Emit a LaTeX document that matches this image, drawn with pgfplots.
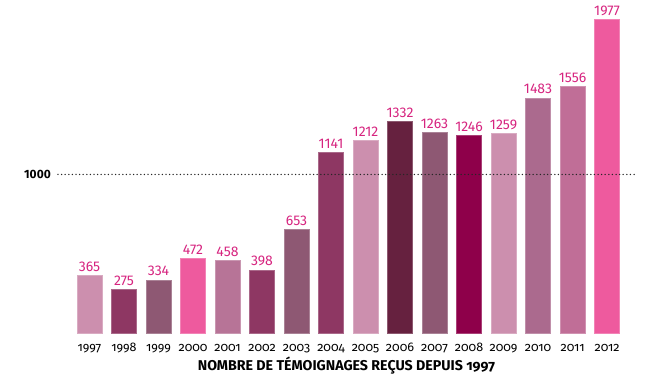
\documentclass[border=0pt]{standalone}
\usepackage{fontspec}
\setmainfont{Fira Sans}
\newfontfamily\oldfont[Numbers=OldStyle]{Fira Sans}
\usepackage{pgfplots}
\pgfplotsset{compat=1.18}
\definecolor{cA}{HTML}{CC8FAE}
\definecolor{cB}{HTML}{8E3763}
\definecolor{cC}{HTML}{8E5873}
\definecolor{cD}{HTML}{EE5A9E}
\definecolor{cE}{HTML}{B77497}
\definecolor{cF}{HTML}{66213F}
\definecolor{cG}{HTML}{8E004A}
\definecolor{cH}{HTML}{AB6A8E}
\definecolor{cI}{HTML}{C06E97}
\definecolor{lab}{HTML}{D6247F}
\begin{document}
\begin{tikzpicture}
\path[use as bounding box] (-58pt,-41pt) rectangle (592pt,336pt);
\begin{axis}[
  scale only axis, width=577pt, height=336pt,
  xmin=-0.913, xmax=15.81, ymin=-19, ymax=2101,
  axis line style={draw=none},
  clip=false,
  ybar, bar width=25pt, bar shift=0pt,
  xtick={0,...,15},
  xticklabels={1997,1998,1999,2000,2001,2002,2003,2004,2005,2006,2007,2008,2009,2010,2011,2012},
  x tick label style={font=\fontsize{12.5}{14}\selectfont\oldfont, anchor=base, yshift=-16pt, inner sep=0pt},
  major tick length=0pt,
  ytick={1000},
  yticklabels={1000},
  y tick label style={font=\fontsize{12}{13}\selectfont\bfseries, anchor=east, xshift=-7pt, inner sep=0pt},
  xlabel={NOMBRE DE TÉMOIGNAGES REÇUS DEPUIS 1997},
  xlabel style={font=\fontsize{14.2}{16}\selectfont\oldfont\bfseries, anchor=base, at={(axis description cs:0.5,0)}, yshift=-35pt, inner sep=0pt},
  /pgf/number format/.cd, 1000 sep={}, assume math mode=true, /pgfplots/.cd,
  nodes near coords,
  every node near coord/.append style={font=\fontsize{14}{16}\selectfont, text=lab, inner sep=0pt, yshift=3.5pt},
]
\addplot[fill=cA, draw=cA!75!white, line width=0.8pt] coordinates {(0,365)};
\addplot[fill=cB, draw=cB!75!white, line width=0.8pt] coordinates {(1,275)};
\addplot[fill=cC, draw=cC!75!white, line width=0.8pt] coordinates {(2,334)};
\addplot[fill=cD, draw=cD!75!white, line width=0.8pt] coordinates {(3,472)};
\addplot[fill=cE, draw=cE!75!white, line width=0.8pt] coordinates {(4,458)};
\addplot[fill=cB, draw=cB!75!white, line width=0.8pt] coordinates {(5,398)};
\addplot[fill=cC, draw=cC!75!white, line width=0.8pt] coordinates {(6,653)};
\addplot[fill=cB, draw=cB!75!white, line width=0.8pt] coordinates {(7,1141)};
\addplot[fill=cA, draw=cA!75!white, line width=0.8pt] coordinates {(8,1212)};
\addplot[fill=cF, draw=cF!75!white, line width=0.8pt] coordinates {(9,1332)};
\addplot[fill=cC, draw=cC!75!white, line width=0.8pt] coordinates {(10,1263)};
\addplot[fill=cG, draw=cG!75!white, line width=0.8pt] coordinates {(11,1246)};
\addplot[fill=cA, draw=cA!75!white, line width=0.8pt] coordinates {(12,1259)};
\addplot[fill=cH, draw=cH!75!white, line width=0.8pt] coordinates {(13,1483)};
\addplot[fill=cI, draw=cI!75!white, line width=0.8pt] coordinates {(14,1556)};
\addplot[fill=cD, draw=cD!75!white, line width=0.8pt] coordinates {(15,1977)};
\addplot[sharp plot, nodes near coords={}, draw=black!85, line width=1.5pt, line cap=round, dash pattern=on 0pt off 3.6pt, forget plot] coordinates {(-0.913,1000) (15.81,1000)};
\end{axis}
\end{tikzpicture}
\end{document}
